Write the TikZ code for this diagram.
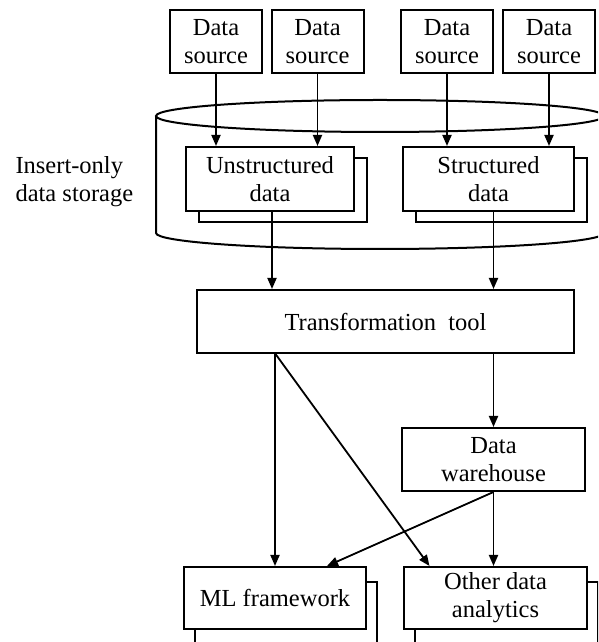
\documentclass[tikz,border=0pt]{standalone}
\usepackage{fontspec}
\setmainfont{Liberation Serif}
\usetikzlibrary{arrows.meta,positioning,shadows}

\begin{document}
\begin{tikzpicture}[x=1pt,y=1pt,>={Triangle[length=11pt,width=9pt]},
  box/.style={draw,line width=2pt,fill=white,align=center,inner sep=0pt,
    font=\fontsize{24.5}{28}\selectfont},
  stack/.style={box,copy shadow={shadow xshift=13pt,shadow yshift=-11pt,
    draw=black,fill=white,line width=2pt}},
  lowstack/.style={box,copy shadow={shadow xshift=11pt,shadow yshift=-15pt,
    draw=black,fill=white,line width=2pt}},
  conn/.style={->,line width=1.8pt}]
  \useasboundingbox (0,0) rectangle (598,642);
  \clip (0,0) rectangle (598,642);
  % storage drum
  \draw[line width=2pt] (156,526) -- (156,409)
    arc[start angle=180,end angle=360,x radius=224,y radius=16] -- (604,526);
  \draw[line width=2pt] (380,526) ellipse[x radius=224,y radius=16];
  \node[font=\fontsize{24.5}{28}\selectfont,align=left,anchor=west] (store) at (12,460) {Insert-only\\data storage};
  % sources
  \node[box,minimum width=92pt,minimum height=63pt] (ds1) at (216,600.5) {Data\\source};
  \node[box,minimum width=92pt,minimum height=63pt] (ds2) at (317.5,600.5) {Data\\source};
  \node[box,minimum width=92pt,minimum height=63pt] (ds3) at (447,600.5) {Data\\source};
  \node[box,minimum width=92pt,minimum height=63pt] (ds4) at (549,600.5) {Data\\source};
  \node[stack,minimum width=168pt,minimum height=64pt] (unstr) at (270,463) {Unstructured\\data};
  \node[stack,minimum width=171pt,minimum height=64pt] (str) at (488.5,463) {Structured\\data};
  \node[box,minimum width=377pt,minimum height=63pt] (tt) at (385.5,320.5) {Transformation~~tool};
  \node[box,minimum width=183pt,minimum height=63pt] (dw) at (493.5,182.5) {Data\\warehouse};
  \node[lowstack,minimum width=182pt,minimum height=62pt] (ml) at (275,44) {ML framework};
  \node[lowstack,minimum width=183pt,minimum height=62pt] (oda) at (495.5,44) {Other data\\analytics};
  % flows
  \foreach \s in {ds1,ds2} \draw[conn] (\s) -- (\s |- unstr.north);
  \foreach \s in {ds3,ds4} \draw[conn] (\s) -- (\s |- str.north);
  \draw[conn] ([xshift=2pt]unstr.south) -- ([xshift=2pt]unstr.south |- tt.north);
  \draw[conn] (str.south -| dw) -- (tt.north -| dw);
  \draw[conn] (tt.south -| dw) -- (dw.north);
  \draw[conn] (tt.south -| ml) -- (ml.north);
  \draw[conn] ([xshift=-110pt]tt.south) -- ([xshift=-66pt]oda.north);
  \draw[conn] (dw.south) -- ([xshift=52pt]ml.north);
  \draw[conn] (dw.south) -- (dw.south |- oda.north);
\end{tikzpicture}
\end{document}
